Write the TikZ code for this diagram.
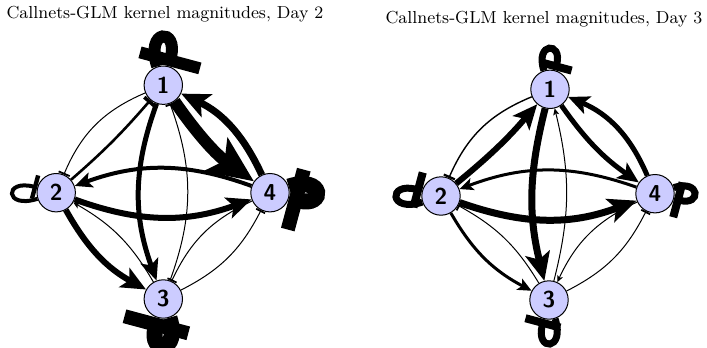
\documentclass[tikz,border=0pt]{standalone}
\usetikzlibrary{arrows.meta,backgrounds}
\definecolor{nodefill}{RGB}{204,204,255}
\begin{document}
\begin{tikzpicture}[x=0.5pt,y=0.5pt,
  nd/.style={circle,draw,line width=0.5pt,fill=nodefill,minimum size=19.2pt,inner sep=0pt,
    font=\sffamily\bfseries\fontsize{11.5}{12}\selectfont},
  ttl/.style={font=\fontsize{8.7}{10}\selectfont,inner sep=0pt},
  exc/.style={line width=#1,-{Stealth[length=1.5pt 3.6,width=1.5pt 3.1,inset=0.4pt 0.8]}},
  inh/.style 2 args={line width=#1,-{Rectangle[length=0.3pt 1.15,width=#2]}},
  barloop/.style n args={3}{line width=#1,-{Rectangle[length=#3,width=#2]}},
  lp/.style={looseness=1,min distance=#1}]
\useasboundingbox (0,0) rectangle (707,-348);
\node[ttl] (t1) at (165,-14) {Callnets-GLM kernel magnitudes, Day 2};
\node[ttl] (t2) at (544,-19) {Callnets-GLM kernel magnitudes, Day 3};
% left panel nodes
\node[nd] (A1) at (163.3,-85.2) {1};
\node[nd] (A2) at (56.2,-192.7) {2};
\node[nd] (A4) at (270,-192.7) {4};
\node[nd] (A3) at (163.3,-299) {3};
% right panel nodes
\node[nd] (B1) at (550,-89.3) {1};
\node[nd] (B2) at (441,-196) {2};
\node[nd] (B4) at (655,-193.7) {4};
\node[nd] (B3) at (549,-300) {3};
\begin{scope}[on background layer]
% left edges
\draw[inh={0.5pt}{6pt}] (A1) to[bend right=22] (A2);
\draw[inh={1.3pt}{6.5pt}] (A2) to[bend right=4] (A1);
\draw[exc=2.5pt] (A1) to[bend right=20] (A3);
\draw[inh={0.5pt}{5pt}] (A3) to[bend right=20] (A1);
\draw[exc=6pt] (A1) to[bend right=10] (A4);
\draw[exc=3.5pt] (A4) to[bend right=20] (A1);
\draw[exc=3pt] (A2) to[bend right=20] (A4);
\draw[exc=2pt] (A4) to[bend right=20] (A2);
\draw[exc=3pt] (A2) to[bend right=16] (A3);
\draw[exc=0.5pt] (A3) to[bend right=15] (A2);
\draw[inh={0.5pt}{5pt}] (A3) to[bend right=18] (A4);
\draw[inh={0.5pt}{5pt}] (A4) to[bend right=20] (A3);
% left loops
\draw[barloop={6pt}{31pt}{6pt}] (A1) to[out=108,in=75,lp=20pt] (A1);
\draw[barloop={2pt}{12pt}{2.2pt}] (A2) to[out=198,in=165,lp=17.4pt] (A2);
\draw[barloop={8pt}{31pt}{7pt}] (A4) to[out=18,in=-15,lp=18.7pt] (A4);
\draw[barloop={8pt}{33pt}{7pt}] (A3) to[out=288,in=255,lp=18.7pt] (A3);
% right edges
\draw[inh={0.7pt}{6pt}] (B1) to[bend right=22] (B2);
\draw[exc=3pt] (B2) to[bend right=5] (B1);
\draw[exc=3.5pt] (B1) to[bend right=14] (B3);
\draw[exc=0.5pt] (B3) to[bend right=14] (B1);
\draw[exc=2.5pt] (B1) to[bend right=10] (B4);
\draw[exc=2.5pt] (B4) to[bend right=22] (B1);
\draw[exc=3.5pt] (B2) to[bend right=20] (B4);
\draw[exc=1.5pt] (B4) to[bend right=20] (B2);
\draw[exc=1.5pt] (B2) to[bend right=16] (B3);
\draw[inh={0.5pt}{5pt}] (B3) to[bend right=15] (B2);
\draw[inh={0.5pt}{5pt}] (B3) to[bend right=18] (B4);
\draw[exc=0.5pt] (B4) to[bend right=20] (B3);
% right loops
\draw[barloop={3.5pt}{16pt}{4pt}] (B1) to[out=108,in=75,lp=15pt] (B1);
\draw[barloop={3.5pt}{18pt}{4pt}] (B2) to[out=198,in=165,lp=17.7pt] (B2);
\draw[barloop={3.5pt}{18pt}{4pt}] (B4) to[out=18,in=-15,lp=14.2pt] (B4);
\draw[barloop={3.5pt}{18pt}{4pt}] (B3) to[out=288,in=255,lp=17pt] (B3);
\end{scope}
\end{tikzpicture}
\end{document}
